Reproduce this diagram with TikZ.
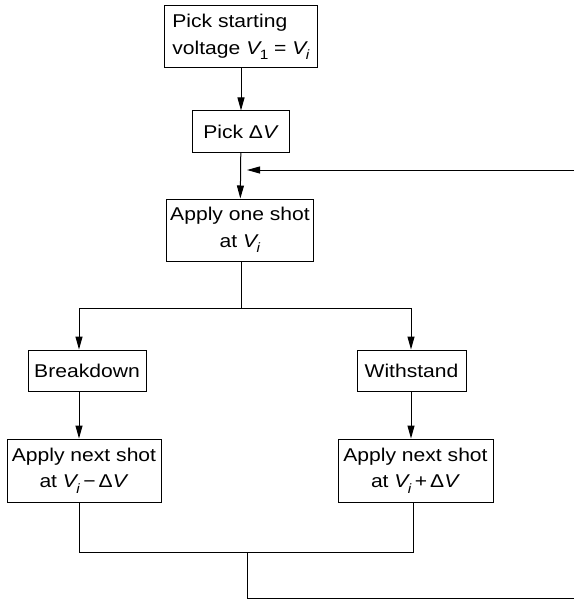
\documentclass[tikz,border=0pt]{standalone}
\usepackage{fontspec}
\setmainfont[FakeStretch=1.14]{Liberation Sans}
\usetikzlibrary{arrows.meta}
\newcommand\vsub[1]{\kern-0.12em\raisebox{-0.3em}{\fontsize{13.5}{13.5}\selectfont #1}}
\newcommand\VV{\textit{V}}
\begin{document}
\begin{tikzpicture}[x=1pt,y=-1pt,
  box/.style={draw, line width=1pt, rectangle, inner sep=0pt, align=center,
    font=\fontsize{18.5}{26.5}\selectfont},
  conn/.style={line width=1pt},
  arr/.style={conn, -{Triangle[length=13pt,width=7pt]}}]
\useasboundingbox (0,0) rectangle (574,599);
\node[box, align=left, minimum width=153pt, minimum height=62pt] (b1) at (241,37)
  {Pick starting\\voltage \VV\vsub{1} = \VV\vsub{\textit{i}}};
\node[box, minimum width=97pt, minimum height=41pt] (b2) at (241,131.5) {Pick Δ\VV};
\node[box, minimum width=147pt, minimum height=62pt] (b3) at (240,230)
  {Apply one shot\\at \VV\vsub{\textit{i}}};
\node[box, minimum width=118pt, minimum height=41pt] (bd) at (87,370.5) {Breakdown};
\node[box, minimum width=109pt, minimum height=41pt] (ws) at (411.5,370.5) {Withstand};
\node[box, minimum width=154pt, minimum height=63pt] (al) at (84,470.5)
  {Apply next shot\\at \VV\vsub{\textit{i}}\,−\,Δ\VV};
\node[box, minimum width=155pt, minimum height=63pt] (ar) at (415.5,470.5)
  {Apply next shot\\at \VV\vsub{\textit{i}}\,+\,Δ\VV};
\coordinate (sl) at (79,308);
\coordinate (sr) at (411,308);
\coordinate (jl) at (79,552);
\coordinate (jr) at (413,552);
\coordinate (jm) at (247,552);
\coordinate (bm) at (247,598);
\coordinate (be) at (574,598);
\coordinate (fe) at (574,170);
\coordinate (ft) at (247,170);
\draw[arr] (b1) -- (b2);
\draw[arr] (b2) -- (b3);
\draw[arr] (fe) -- (ft);
\draw[conn] (b3.south -| 241,0) |- (sl);
\draw[conn] (b3.south -| 241,0) |- (sr);
\draw[arr] (sl) -- (sl |- bd.north);
\draw[arr] (sr) -- (sr |- ws.north);
\draw[arr] (bd.south -| sl) -- (al.north -| sl);
\draw[arr] (ws.south -| sr) -- (ar.north -| sr);
\draw[conn] (al.south -| jl) -- (jl) -- (jr) -- (ar.south -| jr);
\draw[conn] (jm) -- (bm) -- (be);
\end{tikzpicture}
\end{document}
